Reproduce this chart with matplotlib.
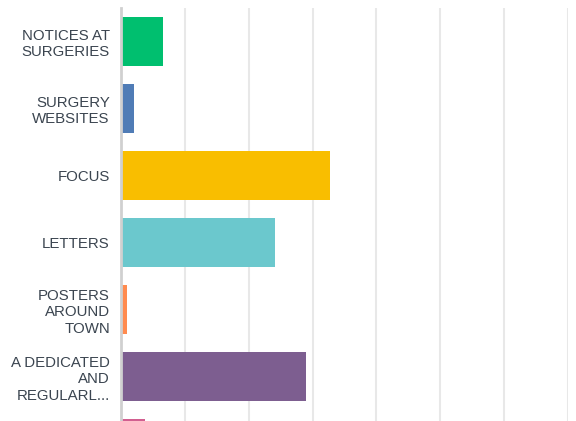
"""Horizontal bar chart of survey answers (how people hear about things)."""
import matplotlib
matplotlib.use("Agg")
import matplotlib.pyplot as plt

# ── data ──
categories = [
    "NOTICES AT\nSURGERIES",
    "SURGERY\nWEBSITES",
    "FOCUS",
    "LETTERS",
    "POSTERS\nAROUND\nTOWN",
    "A DEDICATED\nAND\nREGULARL...",
    "OTHER",
]
values = [6.6, 2.0, 32.8, 24.1, 0.9, 28.9, 3.7]  # percent
colors = ["#00BF6F", "#507CB6", "#F9BE00", "#6BC8CD", "#FF8B4F", "#7D5E90", "#D25F90"]

plt.rcParams["font.family"] = ["Liberation Sans", "DejaVu Sans"]

fig = plt.figure(figsize=(5.76, 4.21), dpi=100)
# plot area runs off the bottom edge, like the cropped original
ax = fig.add_axes([121 / 576, 0, (568 - 121) / 576, (421 - 8) / 421])

ypos = list(range(len(categories)))
ax.barh(ypos, values, height=0.73, color=colors, zorder=3)

ax.set_xticks(range(0, 71, 10))
ax.set_xticklabels([])
ax.tick_params(axis="x", length=0)
ax.set_yticks(ypos)
ax.set_yticklabels(categories, fontsize=10.8, color="#3B4550", linespacing=1.22)
ax.tick_params(axis="y", length=0, pad=8)
# limits last: set_yticks would widen them to show every tick
ax.set_xlim(0, 70)
ax.set_ylim(5.66, -0.5)

ax.grid(axis="x", color="#E8E8E8", linewidth=1.5, zorder=0)
for side in ("top", "right", "bottom"):
    ax.spines[side].set_visible(False)
ax.spines["left"].set_color("#D0D0D0")
ax.spines["left"].set_linewidth(2)
ax.spines["left"].set_zorder(4)

fig.savefig("out.png", dpi=100)
